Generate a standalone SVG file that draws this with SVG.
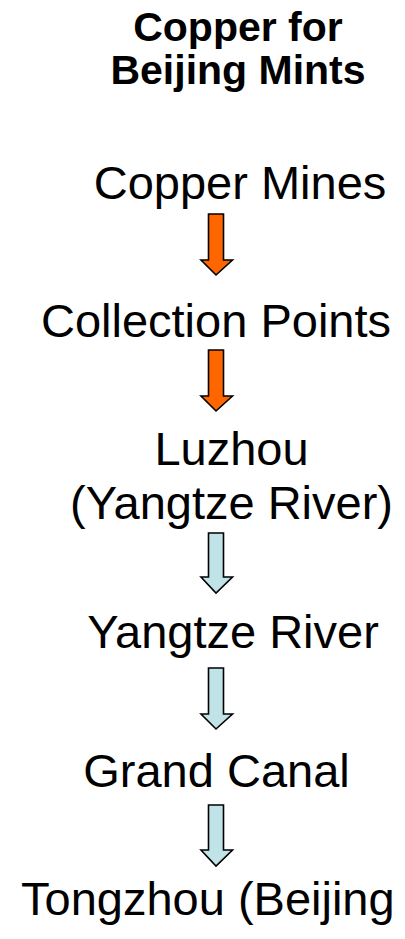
<svg xmlns="http://www.w3.org/2000/svg" width="405" height="939" viewBox="0 0 405 939">
<style>
.t{font-family:"Liberation Sans",Arial,sans-serif;font-size:47px;fill:#000;text-anchor:middle}
.h{font-family:"Liberation Sans",Arial,sans-serif;font-size:41px;font-weight:bold;fill:#000;text-anchor:middle}
.o{fill:#FF6600;stroke:#000;stroke-width:1.6;stroke-linejoin:miter}
.b{fill:#BFE3E6;stroke:#000;stroke-width:1.6;stroke-linejoin:miter}
</style>
<rect width="405" height="939" fill="#fff"/>
<g id="title">
<text class="h" x="238" y="41">Copper for</text>
<text class="h" x="238" y="84">Beijing Mints</text>
</g>
<g id="node-mines"><text class="t" x="240" y="199">Copper Mines</text></g>
<g id="node-collection"><text class="t" x="216" y="337">Collection Points</text></g>
<g id="node-luzhou">
<text class="t" x="231.5" y="465">Luzhou</text>
<text class="t" x="231.5" y="519">(Yangtze River)</text>
</g>
<g id="node-yangtze"><text class="t" x="233" y="648">Yangtze River</text></g>
<g id="node-canal"><text class="t" x="216.5" y="787">Grand Canal</text></g>
<g id="node-tongzhou"><text class="t" x="21" y="915" style="text-anchor:start">Tongzhou (Beijing</text></g>
<g id="connectors">
<path class="o" d="M208.5 214H223.5V260H232.5L216 275L201 260H208.5Z"/>
<path class="o" d="M208.5 350H223.5V396H232.5L216 411L201 396H208.5Z"/>
<path class="b" d="M208.5 533H223.5V577H232.5L216 593L201 577H208.5Z"/>
<path class="b" d="M208.5 668H223.5V714H232.5L216 729L201 714H208.5Z"/>
<path class="b" d="M208.5 805H223.5V850H232.5L216 866L201 850H208.5Z"/>
</g>
</svg>
